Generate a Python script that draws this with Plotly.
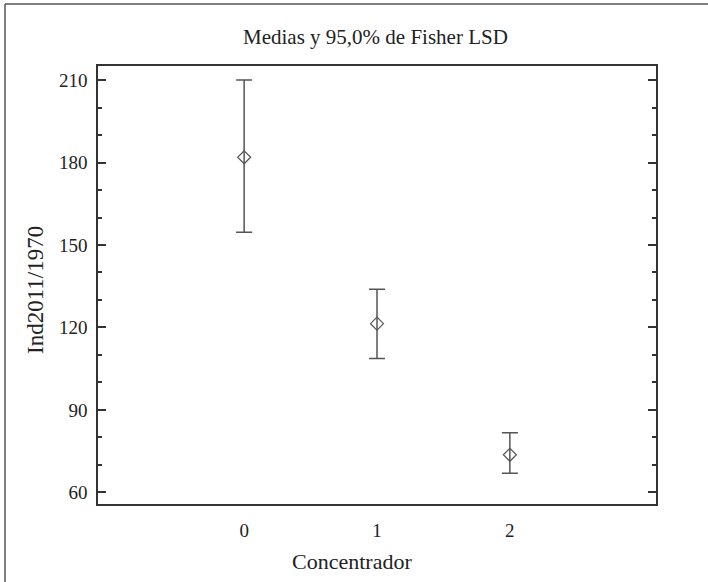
import plotly.graph_objects as go

categories = [0, 1, 2]
category_labels = ["0", "1", "2"]
means = [181.9, 121.4, 73.7]
upper = [210.0, 133.9, 81.7]
lower = [154.6, 108.7, 67.0]
y_ticks = [60, 90, 120, 150, 180, 210]
y_minor = [70, 80, 100, 110, 130, 140, 160, 170, 190, 200]

err_plus = [u - m for u, m in zip(upper, means)]
err_minus = [m - l for m, l in zip(means, lower)]

FONT = "Liberation Serif"
GRAY = "#555555"
TXT = "#222222"
W, H = 708, 582
L, R, T, B = 98, 52, 66, 78
PW, PH = W - L - R, H - T - B

def px(x):
    return (x - L) / PW

def py(y):
    return (H - B - y) / PH

fig = go.Figure()
fig.add_trace(go.Scatter(
    x=categories, y=means, mode="markers",
    marker=dict(symbol="diamond-open", size=10, color=GRAY, line=dict(width=1.2, color=GRAY)),
    error_y=dict(type="data", symmetric=False, array=err_plus, arrayminus=err_minus,
                 color=GRAY, thickness=1.5, width=8),
    showlegend=False,
))

fig.update_layout(
    width=W, height=H,
    margin=dict(l=L, r=R, t=T, b=B),
    paper_bgcolor="white", plot_bgcolor="white",
    font=dict(family=FONT, size=19, color=TXT),
    xaxis=dict(range=[-1.1, 3.1], tickvals=categories, ticktext=category_labels,
               showline=True, mirror=True, linecolor="#333333", linewidth=1.5,
               ticks="", showgrid=False, zeroline=False, automargin=False,
               ticklabelstandoff=8),
    yaxis=dict(range=[55.8, 215.1], tickvals=y_ticks,
               showline=True, mirror="ticks", linecolor="#333333", linewidth=1.5,
               ticks="inside", ticklen=8, tickwidth=1.5, tickcolor="#333333",
               minor=dict(ticks="inside", ticklen=4, tickwidth=1.5, tickcolor="#333333",
                          tickvals=y_minor),
               showgrid=False, zeroline=False, automargin=False,
               ticklabelstandoff=5),
    annotations=[
        dict(text="Medias y 95,0% de Fisher LSD", xref="paper", yref="paper",
             x=px(375), y=py(37), xanchor="center", yanchor="middle", showarrow=False,
             font=dict(size=21, family=FONT, color=TXT)),
        dict(text="Concentrador", xref="paper", yref="paper",
             x=px(352), y=py(561), xanchor="center", yanchor="middle", showarrow=False,
             font=dict(size=22, family=FONT, color=TXT)),
        dict(text="Ind2011/1970", xref="paper", yref="paper", textangle=-90,
             x=px(35), y=py(290), xanchor="center", yanchor="middle", showarrow=False,
             font=dict(size=23, family=FONT, color=TXT)),
    ],
    shapes=[
        dict(type="line", xref="paper", yref="paper", x0=px(5), x1=px(720),
             y0=py(4), y1=py(4), line=dict(color=GRAY, width=1.5)),
        dict(type="line", xref="paper", yref="paper", x0=px(5), x1=px(5),
             y0=py(4), y1=py(600), line=dict(color=GRAY, width=1.5)),
    ],
)

fig.write_html("out.html", config={"displayModeBar": False},
               post_script="document.body.style.margin='0';")
